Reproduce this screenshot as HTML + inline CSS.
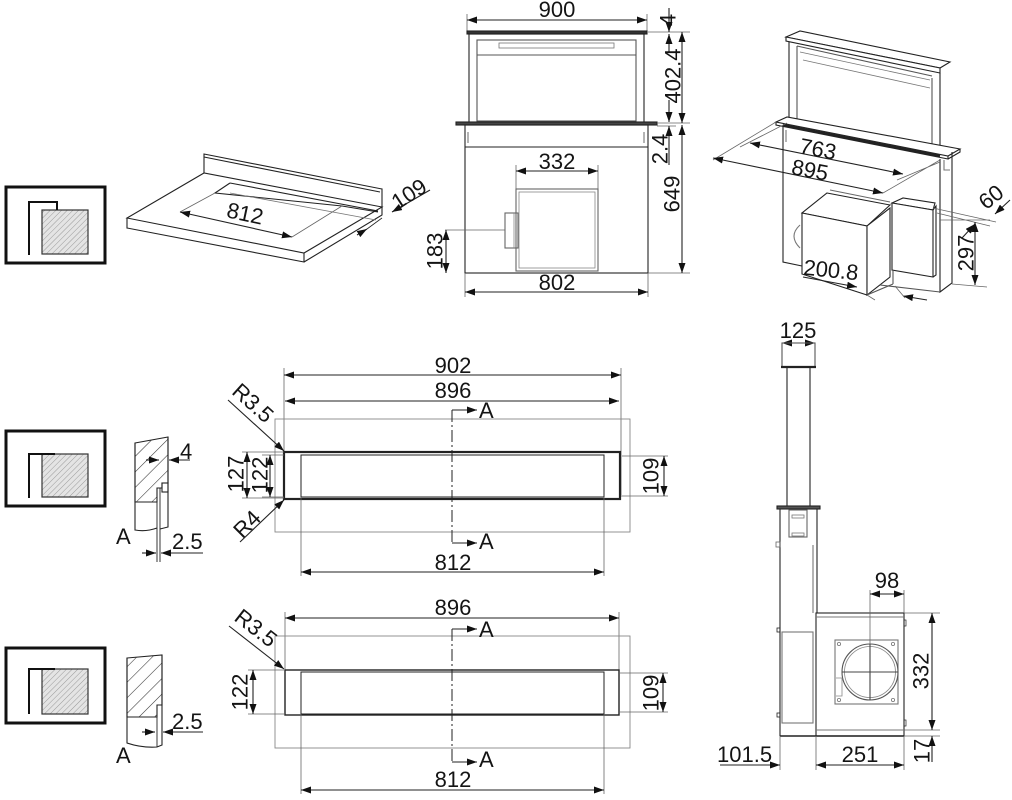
<!DOCTYPE html>
<html><head><meta charset="utf-8"><style>
html,body{margin:0;padding:0;background:#fff;}
svg{display:block;}
text{font-family:"Liberation Sans",Arial,sans-serif;font-size:22px;fill:#141414;}
</style></head><body>
<svg width="1012" height="800" viewBox="0 0 1012 800" xmlns="http://www.w3.org/2000/svg">
<defs>
<marker id="ar" viewBox="0 0 10 7" refX="10" refY="3.5" markerWidth="10" markerHeight="7" markerUnits="userSpaceOnUse" orient="auto-start-reverse"><path d="M0,0L10,3.5L0,7z" fill="#111"/></marker>
<pattern id="h1" width="4" height="4" patternUnits="userSpaceOnUse" patternTransform="rotate(45)"><rect width="4" height="4" fill="#e4e4e4"/><line x1="0" y1="0" x2="0" y2="4" stroke="#9a9a9a" stroke-width="1"/></pattern>
<pattern id="h2" width="11" height="11" patternUnits="userSpaceOnUse" patternTransform="rotate(45)"><rect width="11" height="11" fill="#fff"/><line x1="0" y1="0" x2="0" y2="11" stroke="#333" stroke-width="1.1"/></pattern>
</defs>
<rect width="1012" height="800" fill="#fff"/>

<!-- ICONS -->
<g fill="none" stroke="#111">
<rect x="6" y="187" width="99" height="76" stroke-width="3"/>
<rect x="42" y="210" width="46" height="44" fill="url(#h1)" stroke="#333" stroke-width="1.2"/>
<path d="M29,255V202H57V210" stroke-width="2"/>
<rect x="6" y="431" width="99" height="75" stroke-width="3"/>
<rect x="42" y="454" width="46" height="43" fill="url(#h1)" stroke="#333" stroke-width="1.2"/>
<path d="M29,498V454H55" stroke-width="2"/>
<rect x="6" y="648" width="99" height="75" stroke-width="3"/>
<rect x="42" y="669" width="46" height="45" fill="url(#h1)" stroke="#333" stroke-width="1.2"/>
<path d="M29,714V669H55" stroke-width="2"/>
</g>

<!-- COUNTERTOP ISO -->
<g fill="none" stroke="#222" stroke-width="1.1">
<path d="M204,173V154L382,189V208"/>
<path d="M204,157L380,192"/>
<path d="M127,218L204,173L382,207L304,253Z" fill="#fff"/>
<path d="M127,218V228L304,262V253M304,262L382,215V207"/>
<path d="M230,183L378,211M230,183L215,193L342,206M342,206L378,212"/>
<path d="M230,193L376,220" stroke="#777" stroke-width="0.8"/>
<path d="M180,212L215,193M292,237L342,206" stroke="#666" stroke-width="0.8"/>
<line x1="180" y1="212" x2="292" y2="237" marker-start="url(#ar)" marker-end="url(#ar)"/>
<line x1="357" y1="235" x2="367" y2="229" marker-end="url(#ar)"/>
<line x1="430" y1="190" x2="392" y2="212" marker-end="url(#ar)"/>
<path d="M367,229L382,218" stroke-width="0.8"/>
</g>
<text x="245" y="221" text-anchor="middle" transform="rotate(12 245 214)">812</text>
<text x="409" y="194" text-anchor="middle" dominant-baseline="central" transform="rotate(-33 409 194)">109</text>

<!-- FRONT VIEW -->
<g fill="none" stroke="#222" stroke-width="1.1">
<path d="M467,14V32M647,14V32" stroke="#666" stroke-width="0.8"/>
<line x1="467" y1="20" x2="647" y2="20" marker-start="url(#ar)" marker-end="url(#ar)"/>
<rect x="467" y="31" width="180" height="3" fill="#333"/>
<rect x="469" y="34" width="175" height="89"/>
<rect x="477" y="40" width="159" height="81" stroke="#555"/>
<line x1="477" y1="55" x2="636" y2="55" stroke="#555"/>
<rect x="499" y="43" width="115" height="5" stroke="#777" stroke-width="0.8"/>
<rect x="456" y="122" width="201" height="3" fill="#444"/>
<rect x="465" y="125" width="183" height="148"/>
<line x1="465" y1="147" x2="648" y2="147"/>
<path d="M468,132V143M644,132V143" stroke="#777"/>
<rect x="516" y="189" width="82" height="82" stroke="#666"/>
<rect x="519" y="192" width="76" height="76" stroke="#888" stroke-width="0.8"/>
<rect x="505" y="213" width="13" height="35" stroke="#666"/>
<line x1="514" y1="213" x2="514" y2="248" stroke="#888" stroke-width="0.8"/>
<path d="M445,230H505M516,165V189M598,165V189M465,273V297M648,273V297" stroke="#666" stroke-width="0.8"/>
<line x1="446" y1="250" x2="446" y2="230" marker-end="url(#ar)"/>
<line x1="446" y1="250" x2="446" y2="273" marker-end="url(#ar)"/>
<line x1="516" y1="171" x2="598" y2="171" marker-start="url(#ar)" marker-end="url(#ar)"/>
<line x1="465" y1="292" x2="648" y2="292" marker-start="url(#ar)" marker-end="url(#ar)"/>
<path d="M648,32H690M657,123H690M657,126H676M648,273H690" stroke="#666" stroke-width="0.8"/>
<line x1="669" y1="8" x2="669" y2="32" marker-end="url(#ar)"/>
<line x1="669" y1="52" x2="669" y2="34" marker-end="url(#ar)"/>
<line x1="669" y1="100" x2="669" y2="122" marker-end="url(#ar)"/>
<line x1="669" y1="165" x2="669" y2="126" marker-end="url(#ar)"/>
<line x1="682" y1="32" x2="682" y2="123" marker-start="url(#ar)" marker-end="url(#ar)"/>
<line x1="682" y1="125" x2="682" y2="273" marker-start="url(#ar)" marker-end="url(#ar)"/>
</g>
<text x="557" y="17" text-anchor="middle">900</text>
<text x="557" y="169" text-anchor="middle">332</text>
<text x="557" y="290" text-anchor="middle">802</text>
<text x="668" y="20" text-anchor="middle" dominant-baseline="central" transform="rotate(-90 668 20)">4</text>
<text x="673" y="76" text-anchor="middle" dominant-baseline="central" transform="rotate(-90 673 76)">402.4</text>
<text x="660" y="149" text-anchor="middle" dominant-baseline="central" transform="rotate(-90 660 149)">2.4</text>
<text x="672" y="194" text-anchor="middle" dominant-baseline="central" transform="rotate(-90 672 194)">649</text>
<text x="435" y="251" text-anchor="middle" dominant-baseline="central" transform="rotate(-90 435 251)">183</text>

<!-- ISO RIGHT -->
<g fill="none" stroke="#222" stroke-width="1.1">
<path d="M789,41V122M940,73V153"/>
<path d="M797,46V120M932,78V150M797,46L932,76" stroke="#555"/>
<path d="M800,52L930,80M803,60L930,88" stroke="#777" stroke-width="0.8"/>
<path d="M786,37L800,31L950,62L940,68Z" fill="#fff"/>
<path d="M786,37L940,68V73L786,41Z" fill="#fff"/>
<path d="M776,122L787,117L960,149L948,156Z" fill="#fff"/>
<path d="M776,122V125L948,159V156M948,159L960,152V149"/>
<line x1="783" y1="125" x2="940" y2="156" stroke-width="2.5"/>
<path d="M783,127V262L802,266M940,159V292L952,283V152"/>
<path d="M786,130V142M944,160V170H950" stroke="#777"/>
<path d="M713,160L776,122M740,147L787,123M883,193L940,160M897,180L940,162" stroke="#666" stroke-width="0.8"/>
<line x1="713" y1="158" x2="883" y2="193" marker-start="url(#ar)" marker-end="url(#ar)"/>
<line x1="750" y1="143" x2="903" y2="174" marker-start="url(#ar)" marker-end="url(#ar)"/>
<path d="M800,225Q788,236 800,248" stroke="#777"/>
<path d="M827,193L890,205L867,226L802,213Z" fill="#fff"/>
<path d="M802,213L867,226V295L802,274Z" fill="#fff"/>
<path d="M867,226L890,208V277L867,295Z" fill="#fff"/>
<path d="M830,190L890,202" stroke="#666"/>
<path d="M892,203L903,198L935,203L933,210Z" fill="#fff"/>
<path d="M892,203L933,210V277L892,270Z" fill="#fff"/>
<path d="M933,210L936,206V275L933,277"/>
<path d="M867,295L893,284M880,285L940,292M893,270V284" stroke="#555"/>
<path d="M933,208L996,222M937,213L990,226M940,220H990M952,284L987,287" stroke="#666" stroke-width="0.8"/>
<line x1="962" y1="238" x2="975" y2="224" marker-end="url(#ar)"/>
<line x1="1010" y1="200" x2="995" y2="214" marker-end="url(#ar)"/>
<line x1="975" y1="222" x2="975" y2="285" marker-start="url(#ar)" marker-end="url(#ar)"/>
<line x1="803" y1="277" x2="857" y2="287" marker-end="url(#ar)"/>
<line x1="927" y1="300" x2="903" y2="296" marker-end="url(#ar)"/>
<path d="M867,295L875,300M895,286L905,298" stroke="#666" stroke-width="0.8"/>
</g>
<text x="818" y="149" text-anchor="middle" dominant-baseline="central" transform="rotate(11 818 149)">763</text>
<text x="810" y="170" text-anchor="middle" dominant-baseline="central" transform="rotate(11 810 170)">895</text>
<text x="991" y="197" text-anchor="middle" dominant-baseline="central" transform="rotate(-38 991 197)">60</text>
<text x="966" y="253" text-anchor="middle" dominant-baseline="central" transform="rotate(-90 966 253)">297</text>
<text x="831" y="270" text-anchor="middle" dominant-baseline="central" transform="rotate(6 831 270)">200.8</text>

<!-- MIDDLE PLAN -->
<g fill="none" stroke="#222" stroke-width="1.1">
<path d="M284,368V499M621,368V497" stroke="#666" stroke-width="0.8"/>
<line x1="284" y1="375" x2="621" y2="375" marker-start="url(#ar)" marker-end="url(#ar)"/>
<line x1="285" y1="401" x2="619" y2="401" marker-start="url(#ar)" marker-end="url(#ar)"/>
<rect x="275" y="419" width="355" height="113" stroke="#888" stroke-width="0.9"/>
<rect x="284" y="452" width="336" height="47" stroke-width="2.2"/>
<rect x="301" y="455" width="303" height="42" stroke-width="1"/>
<line x1="452" y1="410" x2="452" y2="543" stroke-dasharray="12 3 2 3" stroke-width="1"/>
<line x1="452" y1="410" x2="477" y2="410" marker-end="url(#ar)"/>
<line x1="452" y1="543" x2="477" y2="543" marker-end="url(#ar)"/>
<path d="M622,456H668M622,496H668M301,497V576M604,497V576M242,452H284M242,498H284M262,455H284M262,497H284" stroke="#666" stroke-width="0.8"/>
<line x1="664" y1="456" x2="664" y2="496" marker-start="url(#ar)" marker-end="url(#ar)"/>
<line x1="301" y1="572" x2="604" y2="572" marker-start="url(#ar)" marker-end="url(#ar)"/>
<line x1="247" y1="452" x2="247" y2="498" marker-start="url(#ar)" marker-end="url(#ar)"/>
<line x1="270" y1="455" x2="270" y2="497" marker-start="url(#ar)" marker-end="url(#ar)"/>
<line x1="228" y1="400" x2="284" y2="451" marker-end="url(#ar)"/>
<line x1="240" y1="542" x2="284" y2="500" marker-end="url(#ar)"/>
</g>
<text x="453" y="373" text-anchor="middle">902</text>
<text x="453" y="398" text-anchor="middle">896</text>
<text x="479" y="418">A</text>
<text x="479" y="549">A</text>
<text x="453" y="570" text-anchor="middle">812</text>
<text x="651" y="476" text-anchor="middle" dominant-baseline="central" transform="rotate(-90 651 476)">109</text>
<text x="236" y="474" text-anchor="middle" dominant-baseline="central" transform="rotate(-90 236 474)">127</text>
<text x="260" y="475" text-anchor="middle" dominant-baseline="central" transform="rotate(-90 260 475)">122</text>
<text x="253" y="403" text-anchor="middle" dominant-baseline="central" transform="rotate(42 253 403)">R3.5</text>
<text x="247" y="524" text-anchor="middle" dominant-baseline="central" transform="rotate(-45 247 524)">R4</text>

<!-- SECTION A (middle) -->
<g fill="none" stroke="#222" stroke-width="1.1">
<path d="M135,443L168,437L168,483L162,483L162,488L157,488L157,502L135,502Z" fill="url(#h2)"/>
<path d="M135,443V530Q146,532 157,528M168,437V527L160,529"/>
<path d="M157,488V562M160,488V562" stroke-width="0.9"/>
<rect x="162" y="483" width="6" height="9"/>
<line x1="146" y1="460" x2="159" y2="460" marker-end="url(#ar)"/>
<line x1="190" y1="460" x2="169" y2="460" marker-end="url(#ar)"/>
<line x1="142" y1="553" x2="156" y2="553" marker-end="url(#ar)"/>
<line x1="203" y1="553" x2="161" y2="553" marker-end="url(#ar)"/>
</g>
<text x="180" y="459">4</text>
<text x="116" y="544">A</text>
<text x="172" y="549">2.5</text>

<!-- BOTTOM PLAN -->
<g fill="none" stroke="#222" stroke-width="1.1">
<path d="M285,612V670M619,612V670" stroke="#666" stroke-width="0.8"/>
<line x1="285" y1="618" x2="619" y2="618" marker-start="url(#ar)" marker-end="url(#ar)"/>
<rect x="275" y="636" width="355" height="112" stroke="#888" stroke-width="0.9"/>
<rect x="285" y="670" width="334" height="45" stroke-width="1.4"/>
<rect x="301" y="672" width="303" height="42" stroke-width="1"/>
<line x1="452" y1="629" x2="452" y2="762" stroke-dasharray="12 3 2 3" stroke-width="1"/>
<line x1="452" y1="629" x2="477" y2="629" marker-end="url(#ar)"/>
<line x1="452" y1="762" x2="477" y2="762" marker-end="url(#ar)"/>
<path d="M620,673H668M620,712H668M301,714V794M604,714V794M248,670H285M248,714H285" stroke="#666" stroke-width="0.8"/>
<line x1="663" y1="673" x2="663" y2="712" marker-start="url(#ar)" marker-end="url(#ar)"/>
<line x1="301" y1="790" x2="604" y2="790" marker-start="url(#ar)" marker-end="url(#ar)"/>
<line x1="253" y1="670" x2="253" y2="714" marker-start="url(#ar)" marker-end="url(#ar)"/>
<line x1="229" y1="626" x2="284" y2="669" marker-end="url(#ar)"/>
</g>
<text x="453" y="615" text-anchor="middle">896</text>
<text x="479" y="637">A</text>
<text x="479" y="767">A</text>
<text x="453" y="787" text-anchor="middle">812</text>
<text x="651" y="693" text-anchor="middle" dominant-baseline="central" transform="rotate(-90 651 693)">109</text>
<text x="240" y="692" text-anchor="middle" dominant-baseline="central" transform="rotate(-90 240 692)">122</text>
<text x="256" y="628" text-anchor="middle" dominant-baseline="central" transform="rotate(38 256 628)">R3.5</text>

<!-- SECTION A (bottom) -->
<g fill="none" stroke="#222" stroke-width="1.1">
<path d="M127,658L162,655L162,705L157,705L157,717L127,717Z" fill="url(#h2)"/>
<path d="M127,658V743Q142,748 157,747L162,745V655"/>
<path d="M157,705V747" stroke-width="0.9"/>
<line x1="142" y1="732" x2="155" y2="732" marker-end="url(#ar)"/>
<line x1="203" y1="732" x2="163" y2="732" marker-end="url(#ar)"/>
</g>
<text x="172" y="729">2.5</text>
<text x="116" y="763">A</text>

<!-- RIGHT SIDE VIEW -->
<g fill="none" stroke="#222" stroke-width="1.1">
<line x1="782" y1="343" x2="815" y2="343" marker-start="url(#ar)" marker-end="url(#ar)"/>
<rect x="782" y="343" width="33" height="24" stroke="#555"/>
<line x1="781" y1="367" x2="816" y2="367" stroke-width="2.2"/>
<rect x="787" y="367" width="23" height="140"/>
<rect x="777" y="506" width="43" height="3" fill="#555"/>
<path d="M780,509V736M817,509V613"/>
<rect x="789" y="510" width="18" height="27" stroke="#666"/>
<rect x="792" y="515" width="12" height="3" stroke="#777" stroke-width="0.8"/>
<rect x="792" y="533" width="12" height="3" stroke="#777" stroke-width="0.8"/>
<rect x="776" y="542" width="4" height="5" stroke="#666" stroke-width="0.8"/>
<line x1="813" y1="545" x2="813" y2="613" stroke="#777"/>
<rect x="782" y="632" width="31" height="91" stroke="#777"/>
<rect x="777" y="628" width="3" height="4" stroke-width="0.8"/>
<rect x="777" y="713" width="3" height="4" stroke-width="0.8"/>
<line x1="780" y1="736" x2="904" y2="736" stroke-width="1.4"/>
<rect x="816" y="613" width="88" height="123"/>
<path d="M816,617H904M816,730H904" stroke="#777"/>
<rect x="904" y="620" width="2" height="6" stroke-width="0.7"/>
<rect x="904" y="720" width="2" height="6" stroke-width="0.7"/>
<rect x="835" y="640" width="63" height="64" stroke="#777"/>
<circle cx="870" cy="672" r="28" stroke="#555"/>
<circle cx="870" cy="672" r="25.5" stroke="#888" stroke-width="0.8"/>
<path d="M842,672H898M870,644V700" stroke="#444"/>
<circle cx="839" cy="644" r="1.6" stroke="#777" stroke-width="0.8"/>
<circle cx="893" cy="644" r="1.6" stroke="#777" stroke-width="0.8"/>
<circle cx="839" cy="700" r="1.6" stroke="#777" stroke-width="0.8"/>
<circle cx="893" cy="700" r="1.6" stroke="#777" stroke-width="0.8"/>
<path d="M836,678H842V696H836" stroke="#888" stroke-width="0.8"/>
<path d="M870,590V644M904,590V613M904,613H940M904,730H940M904,736H940M780,736V770M816,736V770M904,736V770" stroke="#666" stroke-width="0.8"/>
<line x1="870" y1="594" x2="904" y2="594" marker-start="url(#ar)" marker-end="url(#ar)"/>
<line x1="932" y1="613" x2="932" y2="730" marker-start="url(#ar)" marker-end="url(#ar)"/>
<line x1="932" y1="762" x2="932" y2="736" marker-end="url(#ar)"/>
<line x1="720" y1="765" x2="780" y2="765" marker-end="url(#ar)"/>
<line x1="816" y1="765" x2="904" y2="765" marker-start="url(#ar)" marker-end="url(#ar)"/>
</g>
<text x="798" y="338" text-anchor="middle">125</text>
<text x="887" y="588" text-anchor="middle">98</text>
<text x="921" y="671" text-anchor="middle" dominant-baseline="central" transform="rotate(-90 921 671)">332</text>
<text x="922" y="751" text-anchor="middle" dominant-baseline="central" transform="rotate(-90 922 751)">17</text>
<text x="717" y="762">101.5</text>
<text x="860" y="762" text-anchor="middle">251</text>
</svg>
</body></html>
